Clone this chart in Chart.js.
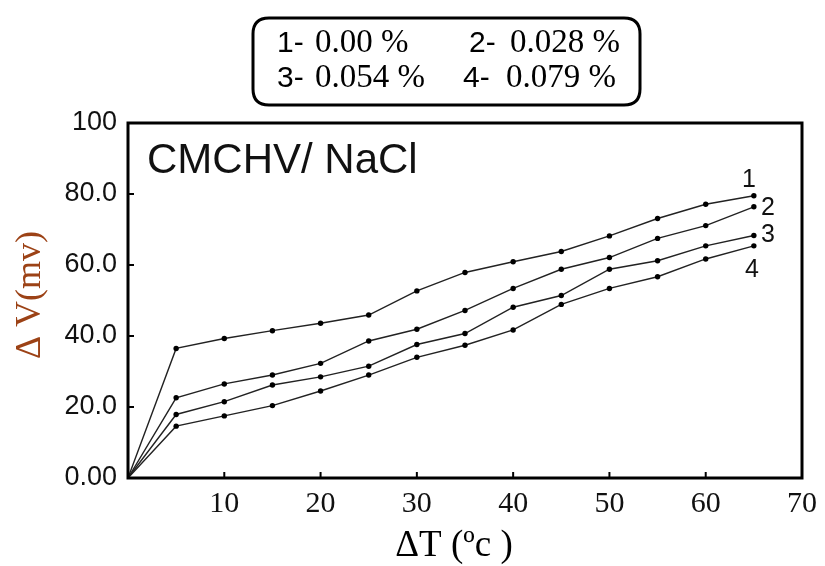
<!DOCTYPE html>
<html>
<head>
<meta charset="utf-8">
<script src="https://cdn.jsdelivr.net/npm/chart.js@4/dist/chart.umd.min.js"></script>
<style>
  html, body { margin: 0; padding: 0; background: #fff; }
  canvas { display: block; }
</style>
</head>
<body>
<canvas id="c" width="825" height="566"></canvas>
<script>
// ---- data ----
const xValues = [0, 5, 10, 15, 20, 25, 30, 35, 40, 45, 50, 55, 60, 65];
const series1 = [0, 36.5, 39.3, 41.5, 43.6, 45.9, 52.7, 57.9, 60.9, 63.8, 68.2, 73.1, 77.1, 79.5];
const series2 = [0, 22.6, 26.5, 29.0, 32.3, 38.6, 41.9, 47.2, 53.4, 58.8, 62.1, 67.5, 71.1, 76.4];
const series3 = [0, 17.9, 21.5, 26.2, 28.5, 31.5, 37.6, 40.7, 48.1, 51.4, 58.8, 61.2, 65.4, 68.3];
const series4 = [0, 14.6, 17.5, 20.4, 24.5, 29.0, 34.0, 37.4, 41.7, 48.9, 53.4, 56.7, 61.7, 65.4];
const seriesNames = ['1', '2', '3', '4'];
const legendPrefixes = ['1-', '2-', '3-', '4-'];
const legendValues = ['0.00 %', '0.028 %', '0.054 %', '0.079 %'];
const yTickLabels = ['0.00', '20.0', '40.0', '60.0', '80.0', '100'];
const xTickLabels = ['', '10', '20', '30', '40', '50', '60', '70'];
const chartTitle = 'CMCHV/ NaCl';
const xTitle = 'ΔT (ºc )';
const yTitle = 'Δ V(mv)';

const allSeries = [series1, series2, series3, series4];

const datasets = allSeries.map((s, k) => ({
  label: seriesNames[k],
  data: xValues.map((x, i) => ({ x: x, y: s[i] })),
  borderColor: '#222',
  borderWidth: 1.4,
  backgroundColor: '#000',
  pointBackgroundColor: '#000',
  pointBorderColor: '#000',
  pointBorderWidth: 0,
  pointRadius: ctx => ctx.dataIndex === 0 ? 0 : 2.7,
  tension: 0,
  fill: false
}));

function roundRect(ctx, x, y, w, h, r) {
  ctx.beginPath();
  ctx.moveTo(x + r, y);
  ctx.lineTo(x + w - r, y);
  ctx.quadraticCurveTo(x + w, y, x + w, y + r);
  ctx.lineTo(x + w, y + h - r);
  ctx.quadraticCurveTo(x + w, y + h, x + w - r, y + h);
  ctx.lineTo(x + r, y + h);
  ctx.quadraticCurveTo(x, y + h, x, y + h - r);
  ctx.lineTo(x, y + r);
  ctx.quadraticCurveTo(x, y, x + r, y);
  ctx.closePath();
}

const decorPlugin = {
  id: 'decor',
  beforeDraw(chart) {
    const ctx = chart.ctx;
    ctx.save();
    ctx.fillStyle = '#fff';
    ctx.fillRect(0, 0, chart.width, chart.height);
    ctx.restore();
  },
  afterDraw(chart) {
    const ctx = chart.ctx;
    const a = chart.chartArea;
    const xs = chart.scales.x, ys = chart.scales.y;
    ctx.save();
    // plot frame
    ctx.strokeStyle = '#000';
    ctx.lineWidth = 3;
    ctx.strokeRect(a.left, a.top, a.right - a.left, a.bottom - a.top);
    // inward ticks
    ctx.lineWidth = 2;
    ys.ticks.forEach(t => {
      const y = ys.getPixelForValue(t.value);
      ctx.beginPath(); ctx.moveTo(a.left, y); ctx.lineTo(a.left + 6, y); ctx.stroke();
    });
    xs.ticks.forEach(t => {
      const x = xs.getPixelForValue(t.value);
      ctx.beginPath(); ctx.moveTo(x, a.bottom); ctx.lineTo(x, a.bottom - 6); ctx.stroke();
    });

    // chart title inside plot
    ctx.fillStyle = '#111';
    ctx.font = '42px "Liberation Sans", Arial, sans-serif';
    ctx.textAlign = 'left';
    ctx.textBaseline = 'alphabetic';
    ctx.fillText(chartTitle, a.left + 19, a.top + 50);

    // series end labels
    ctx.font = '25px "Liberation Sans", Arial, sans-serif';
    ctx.textAlign = 'center';
    ctx.textBaseline = 'middle';
    const offs = [[-5, -16], [14, 1], [14, 0], [-2, 24]];
    allSeries.forEach((s, k) => {
      const last = s.length - 1;
      const px = xs.getPixelForValue(xValues[last]);
      const py = ys.getPixelForValue(s[last]);
      ctx.fillText(seriesNames[k], px + offs[k][0], py + offs[k][1]);
    });

    // axis titles
    ctx.fillStyle = '#000';
    ctx.font = '37px "Liberation Serif", "Times New Roman", serif';
    ctx.textAlign = 'center';
    ctx.textBaseline = 'middle';
    ctx.fillText(xTitle, 454, 546);

    ctx.save();
    ctx.translate(31, 295);
    ctx.rotate(-Math.PI / 2);
    ctx.fillStyle = '#9c4216';
    ctx.font = '36px "Liberation Serif", "Times New Roman", serif';
    ctx.fillText(yTitle, 0, 0);
    ctx.restore();

    // legend box
    ctx.lineWidth = 3;
    ctx.strokeStyle = '#000';
    roundRect(ctx, 253, 18, 387, 87, 16);
    ctx.stroke();
    const pos = [[277, 52, 315], [469, 52, 510], [277, 87, 315], [463, 87, 506]];
    ctx.textAlign = 'left';
    ctx.textBaseline = 'alphabetic';
    for (let k = 0; k < 4; k++) {
      ctx.fillStyle = '#000';
      ctx.font = '30px "Liberation Sans", Arial, sans-serif';
      ctx.fillText(legendPrefixes[k], pos[k][0], pos[k][1]);
      ctx.font = '33px "Liberation Serif", "Times New Roman", serif';
      ctx.fillText(legendValues[k], pos[k][2], pos[k][1]);
    }
    ctx.restore();
  }
};

new Chart(document.getElementById('c'), {
  type: 'line',
  data: { datasets: datasets },
  options: {
    responsive: false,
    animation: false,
    devicePixelRatio: 1,
    layout: { padding: { left: 0, top: 123, right: 23, bottom: 0 } },
    plugins: { legend: { display: false }, tooltip: { enabled: false } },
    scales: {
      x: {
        type: 'linear',
        min: 0, max: 70,
        ticks: {
          stepSize: 10,
          autoSkip: false,
          maxRotation: 0,
          padding: 8,
          color: '#111',
          font: { family: '"Liberation Serif", "Times New Roman", serif', size: 30 },
          callback: (v, i) => xTickLabels[i]
        },
        grid: { display: false, drawTicks: false },
        border: { display: false },
        afterFit: s => { s.height = 88; }
      },
      y: {
        type: 'linear',
        min: 0, max: 100,
        ticks: {
          stepSize: 20,
          autoSkip: false,
          padding: 11,
          color: '#111',
          font: { family: '"Liberation Sans", Arial, sans-serif', size: 27 },
          callback: (v, i) => yTickLabels[i]
        },
        grid: { display: false, drawTicks: false },
        border: { display: false },
        afterFit: s => { s.width = 128; }
      }
    }
  },
  plugins: [decorPlugin]
});
</script>
</body>
</html>
